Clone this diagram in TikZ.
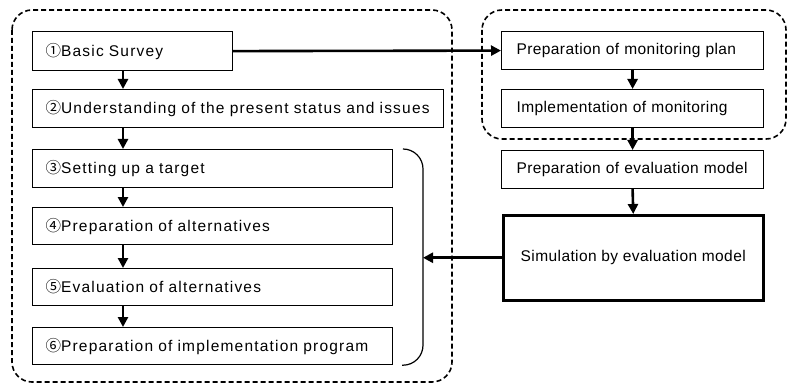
\documentclass[tikz,border=0pt]{standalone}
\usepackage{fontspec}
\setmainfont{Liberation Sans}
\newfontfamily\lfont[LetterSpace=7.7]{Liberation Sans}
\newfontfamily\rfont[LetterSpace=2.6]{Liberation Sans}
\newfontfamily\cjkf{Noto Sans CJK JP}
\newcommand{\cn}[1]{{\cjkf #1}}
\usetikzlibrary{arrows.meta}
\begin{document}
\begin{tikzpicture}[x=1pt,y=-1pt,
  box/.style={draw,line width=1.2pt,anchor=north west,inner xsep=13pt,inner ysep=0pt,align=left,font=\fontsize{15.5}{17}\lfont},
  rbox/.style={box,inner xsep=15pt,text width=232pt,minimum height=38pt,font=\fontsize{15.5}{17}\rfont},
  cbox/.style={draw,line width=1.2pt,anchor=north west,inner sep=0pt,align=center,font=\fontsize{15.5}{17}\rfont},
  arr/.style={line width=2.6pt,-{Triangle[length=10pt,width=10pt]}},
  dbox/.style={line width=1.6pt,dash pattern=on 5pt off 3pt,rounded corners=20pt}]
\useasboundingbox (0,0) rectangle (787,385);
\fill[white] (0,0) rectangle (787,385);
% dashed groups
\draw[dbox] (12,10) rectangle (452,382);
\draw[dbox] (482,10) rectangle (786,139);
% left column
\node[box,text width=174pt,minimum height=39pt] (b1) at (32,31) {\cn{①}Basic Survey};
\node[box,text width=385pt,minimum height=38pt] (b2) at (32,89) {\cn{②}Understanding of the present status and issues};
\node[box,text width=334pt,minimum height=38pt] (b3) at (32,149) {\cn{③}Setting up a target};
\node[box,text width=334pt,minimum height=37pt] (b4) at (32,207) {\cn{④}Preparation of alternatives};
\node[box,text width=334pt,minimum height=37pt] (b5) at (32,268) {\cn{⑤}Evaluation of alternatives};
\node[box,text width=334pt,minimum height=37pt] (b6) at (32,327) {\cn{⑥}Preparation of implementation program};
% right column
\node[rbox] (mp) at (501,31) {Preparation of monitoring plan};
\node[rbox] (im) at (501,89) {Implementation of monitoring};
\node[rbox] (em) at (501,150) {Preparation of evaluation model};
\node[cbox,line width=2.5pt,minimum width=260pt,minimum height=85pt] (sim) at (502,214) {Simulation by evaluation model};
% bracket
\coordinate (bk) at (423,0);
\coordinate (lx) at (123,0);
\draw[line width=1.2pt,rounded corners=20pt] (b3.north east) ++(10,0) -- (bk |- b3.north) -- (bk |- b6.south) -- ++(-21,0);
% arrows
\draw[arr] (b1.south -| lx) -- (b2.north -| lx);
\draw[arr] (b2.south -| lx) -- (b3.north -| lx);
\draw[arr] (b3.south -| lx) -- (b4.north -| lx);
\draw[arr] (b4.south -| lx) -- (b5.north -| lx);
\draw[arr] (b5.south -| lx) -- (b6.north -| lx);
\draw[arr] (b1.east) -- (mp.west);
\draw[arr] (mp.south) -- (im.north);
\draw[arr] (im.south) -- (em.north);
\draw[arr] (em.south) -- (sim.north);
\draw[arr] (sim.west) -- (sim.west -| bk);
\end{tikzpicture}
\end{document}
